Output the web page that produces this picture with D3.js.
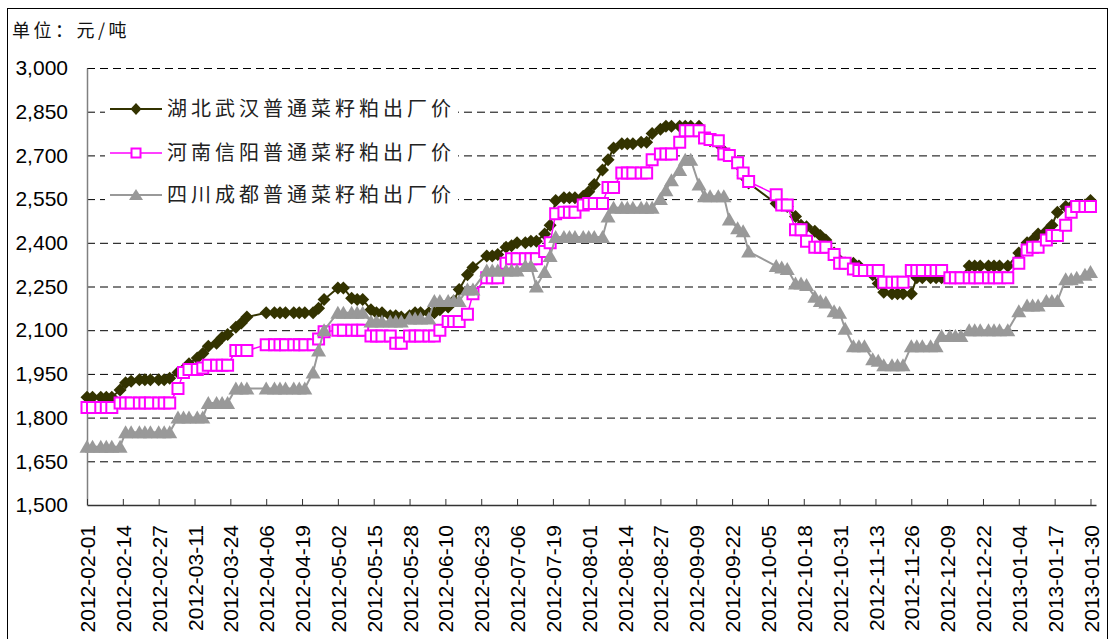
<!DOCTYPE html>
<html>
<head>
<meta charset="utf-8">
<script src="https://cdn.jsdelivr.net/npm/d3@7"></script>
<style>
  body { margin: 0; background: #fff; }
  svg { display: block; }
</style>
</head>
<body>
<svg id="chart" width="1110" height="639"></svg>
<script>
// Survey dates (Mon / Wed / Fri, public holidays excluded)
const sampleDates = [
  "2012-02-01","2012-02-03","2012-02-06","2012-02-08","2012-02-10","2012-02-13","2012-02-15","2012-02-17","2012-02-20","2012-02-22","2012-02-24","2012-02-27","2012-02-29",
  "2012-03-02","2012-03-05","2012-03-07","2012-03-09","2012-03-12","2012-03-14","2012-03-16","2012-03-19","2012-03-21","2012-03-23","2012-03-26","2012-03-28","2012-03-30",
  "2012-04-06","2012-04-09","2012-04-11","2012-04-13","2012-04-16","2012-04-18","2012-04-20","2012-04-23","2012-04-25","2012-04-27",
  "2012-05-02","2012-05-04","2012-05-07","2012-05-09","2012-05-11","2012-05-14","2012-05-16","2012-05-18","2012-05-21","2012-05-23","2012-05-25","2012-05-28","2012-05-30",
  "2012-06-01","2012-06-04","2012-06-06","2012-06-08","2012-06-11","2012-06-13","2012-06-15","2012-06-18","2012-06-20","2012-06-25","2012-06-27","2012-06-29",
  "2012-07-02","2012-07-04","2012-07-06","2012-07-09","2012-07-11","2012-07-13","2012-07-16","2012-07-18","2012-07-20","2012-07-23","2012-07-25","2012-07-27","2012-07-30",
  "2012-08-01","2012-08-03","2012-08-06","2012-08-08","2012-08-10","2012-08-13","2012-08-15","2012-08-17","2012-08-20","2012-08-22","2012-08-24","2012-08-27","2012-08-29","2012-08-31",
  "2012-09-03","2012-09-05","2012-09-07","2012-09-10","2012-09-12","2012-09-14","2012-09-17","2012-09-19","2012-09-21","2012-09-24","2012-09-26","2012-09-28",
  "2012-10-08","2012-10-10","2012-10-12","2012-10-15","2012-10-17","2012-10-19","2012-10-22","2012-10-24","2012-10-26","2012-10-29","2012-10-31",
  "2012-11-02","2012-11-05","2012-11-07","2012-11-09","2012-11-12","2012-11-14","2012-11-16","2012-11-19","2012-11-21","2012-11-23","2012-11-26","2012-11-28","2012-11-30",
  "2012-12-03","2012-12-05","2012-12-07","2012-12-10","2012-12-12","2012-12-14","2012-12-17","2012-12-19","2012-12-21","2012-12-24","2012-12-26","2012-12-28","2012-12-31",
  "2013-01-04","2013-01-07","2013-01-09","2013-01-11","2013-01-14","2013-01-16","2013-01-18","2013-01-21","2013-01-23","2013-01-25","2013-01-28","2013-01-30"
];

// 湖北武汉 (元/吨)
const wuhan = [
  1870,1870,1870,1870,1870,1895,1920,1925,1930,1930,1930,1930,1930,
  1935,1955,1965,1985,2005,2020,2045,2055,2075,2085,2110,2125,2145,
  2160,2160,2160,2160,2160,2160,2160,2160,2175,2205,
  2245,2245,2210,2205,2205,2170,2160,2160,2150,2150,2145,2150,2160,
  2160,2160,2160,2170,2180,2200,2240,2290,2315,2355,2355,2360,
  2385,2390,2400,2400,2405,2405,2430,2460,2545,2555,2555,2555,2560,
  2575,2600,2650,2685,2725,2740,2740,2740,2745,2745,2775,2790,2800,2800,
  2800,2800,2800,2800,2760,2750,2740,2715,2700,2670,2630,2605,
  2535,2530,2525,2490,2460,2455,2440,2425,2410,2365,2340,
  2330,2330,2320,2305,2290,2260,2230,2225,2225,2225,2225,2280,2280,
  2280,2280,2280,2280,2280,2280,2320,2320,2320,2320,2320,2320,2320,
  2365,2400,2410,2430,2440,2460,2505,2525,2525,2525,2530,2545
];

// 河南信阳 (元/吨)
const xinyang = [
  1835,1835,1835,1835,1835,1850,1850,1850,1850,1850,1850,1850,1850,
  1850,1900,1955,1965,1965,1970,1980,1980,1980,1980,2030,2030,2030,
  2050,2050,2050,2050,2050,2050,2050,2050,2070,2095,
  2100,2100,2100,2100,2100,2080,2080,2080,2080,2055,2055,2080,2080,
  2080,2080,2080,2100,2130,2130,2130,2155,2225,2280,2280,2280,
  2330,2345,2345,2345,2345,2345,2370,2400,2500,2505,2505,2505,2530,
  2535,2535,2535,2590,2590,2640,2640,2640,2640,2640,2685,2705,2705,2705,
  2745,2785,2785,2785,2760,2755,2750,2705,2700,2675,2640,2610,
  2565,2530,2530,2445,2445,2405,2385,2385,2385,2360,2330,
  2330,2310,2305,2305,2305,2305,2265,2265,2265,2265,2305,2305,2305,
  2305,2305,2305,2280,2280,2280,2280,2280,2280,2280,2280,2280,2280,
  2330,2375,2385,2385,2410,2425,2425,2460,2505,2525,2525,2525
];

// 四川成都 (元/吨)
const chengdu = [
  1700,1700,1700,1700,1700,1700,1750,1750,1750,1750,1750,1750,1750,
  1750,1800,1800,1800,1800,1800,1850,1850,1850,1850,1900,1900,1900,
  1900,1900,1900,1900,1900,1900,1900,1955,2030,2100,
  2160,2160,2160,2160,2160,2130,2130,2130,2130,2130,2130,2140,2140,
  2140,2140,2200,2200,2200,2200,2200,2240,2240,2305,2305,2305,
  2305,2305,2305,2320,2320,2250,2300,2355,2420,2420,2420,2420,2420,
  2420,2420,2420,2490,2520,2520,2520,2520,2520,2520,2520,2550,2580,2615,
  2650,2685,2685,2600,2560,2560,2560,2560,2480,2450,2440,2370,
  2320,2315,2310,2260,2260,2255,2215,2200,2195,2165,2160,
  2105,2045,2045,2045,2000,1995,1980,1980,1980,1980,2045,2045,2045,
  2045,2045,2080,2080,2080,2080,2100,2100,2100,2100,2100,2100,2100,
  2165,2185,2185,2185,2200,2200,2200,2275,2275,2280,2290,2300
];

const seriesNames = ["湖北武汉普通菜籽粕出厂价", "河南信阳普通菜籽粕出厂价", "四川成都普通菜籽粕出厂价"];
const yTicks = [1500, 1650, 1800, 1950, 2100, 2250, 2400, 2550, 2700, 2850, 3000];
const xTickLabels = [
  "2012-02-01","2012-02-14","2012-02-27","2012-03-11","2012-03-24","2012-04-06","2012-04-19",
  "2012-05-02","2012-05-15","2012-05-28","2012-06-10","2012-06-23","2012-07-06","2012-07-19",
  "2012-08-01","2012-08-14","2012-08-27","2012-09-09","2012-09-22","2012-10-05","2012-10-18",
  "2012-10-31","2012-11-13","2012-11-26","2012-12-09","2012-12-22","2013-01-04","2013-01-17","2013-01-30"
];
const unitLabel = "单位：元/吨";

const parse = d3.utcParse("%Y-%m-%d");
const fmt = d3.utcFormat("%Y-%m-%d");

const svg = d3.select("#chart");
const plot = { left: 87, right: 1096, top: 68, bottom: 505 };

const x = d3.scaleUtc()
  .domain([parse("2012-02-01"), parse("2013-02-01")])
  .range([plot.left, plot.right]);
const y = d3.scaleLinear()
  .domain([1500, 3000])
  .range([plot.bottom, plot.top]);

// outer frame
svg.append("rect")
  .attr("x", 7.5).attr("y", 8.5)
  .attr("width", 1100).attr("height", 640)
  .attr("fill", "#fff").attr("stroke", "#000").attr("stroke-width", 1);

// unit caption
svg.append("text")
  .attr("x", 12).attr("y", 37)
  .attr("font-family", "'Noto Sans CJK SC', sans-serif")
  .attr("font-size", 18)
  .attr("letter-spacing", 3.5)
  .attr("fill", "#111")
  .text(unitLabel);

// horizontal dashed grid
const grid = svg.append("g")
  .attr("transform", `translate(${plot.left},0)`)
  .call(d3.axisLeft(y).tickValues(yTicks.slice(1)).tickSize(-(plot.right - plot.left)).tickFormat(""));
grid.select(".domain").remove();
grid.selectAll("line")
  .attr("stroke", "#000")
  .attr("stroke-width", 1)
  .attr("stroke-dasharray", "8,5");

// y axis labels
const yAxis = svg.append("g")
  .attr("transform", `translate(${plot.left},0)`)
  .call(d3.axisLeft(y).tickValues(yTicks).tickSize(0).tickPadding(19).tickFormat(d3.format(",")));
yAxis.select(".domain")
  .attr("stroke", "#808080").attr("stroke-width", 1.5);
yAxis.selectAll("text")
  .attr("font-family", "'Liberation Sans', Arial, sans-serif")
  .attr("font-size", 21)
  .attr("fill", "#000");

// x axis
const xAxis = svg.append("g")
  .attr("transform", `translate(0,${plot.bottom})`)
  .call(d3.axisBottom(x).tickValues(xTickLabels.map(parse)).tickSize(-6).tickSizeOuter(0).tickFormat(fmt));
xAxis.select(".domain").attr("stroke", "#333").attr("stroke-width", 1.5);
xAxis.selectAll(".tick line").attr("stroke", "#333");
xAxis.selectAll("text")
  .attr("transform", "rotate(-90)")
  .attr("x", -20).attr("y", 0).attr("dy", "0.36em")
  .attr("text-anchor", "end")
  .attr("font-family", "'Liberation Sans', Arial, sans-serif")
  .attr("font-size", 21)
  .attr("fill", "#000");

// series
const dates = sampleDates.map(parse);
const series = [
  { name: seriesNames[0], values: wuhan,   color: "#333300", width: 2,   marker: "diamond" },
  { name: seriesNames[1], values: xinyang, color: "#FF00FF", width: 1.5, marker: "square" },
  { name: seriesNames[2], values: chengdu, color: "#999999", width: 2,   marker: "triangle" }
];

const markerPath = {
  diamond: "M0,-6.5L6.5,0L0,6.5L-6.5,0Z",
  square: "M-5.5,-5.5H5.5V5.5H-5.5Z",
  triangle: "M0,-7L7.5,6L-7.5,6Z"
};
const legendMarkerPath = {
  diamond: "M0,-6L5.5,0L0,6L-5.5,0Z",
  square: "M-4.5,-4.5H4.5V4.5H-4.5Z",
  triangle: "M0,-6L7,5L-7,5Z"
};

function styleMarker(sel, s) {
  if (s.marker === "square") {
    sel.attr("fill", "#fff").attr("stroke", s.color).attr("stroke-width", 2);
  } else {
    sel.attr("fill", s.color).attr("stroke", "none");
  }
}

const line = d3.line().x(d => x(d.date)).y(d => y(d.value));

series.forEach(s => {
  const pts = dates.map((d, i) => ({ date: d, value: s.values[i] }));
  const g = svg.append("g");
  g.append("path")
    .datum(pts)
    .attr("d", line)
    .attr("fill", "none")
    .attr("stroke", s.color)
    .attr("stroke-width", s.width);
  g.selectAll("path.mk")
    .data(pts)
    .join("path")
    .attr("class", "mk")
    .attr("d", markerPath[s.marker])
    .attr("transform", d => `translate(${x(d.date)},${y(d.value)})`)
    .call(styleMarker, s);
});

// legend
const legend = svg.append("g");
legend.append("rect")
  .attr("x", 105).attr("y", 94)
  .attr("width", 353).attr("height", 112)
  .attr("fill", "#fff");
const legendY = [109, 153, 195];
series.forEach((s, i) => {
  const row = legend.append("g").attr("transform", `translate(0,${legendY[i]})`);
  row.append("line")
    .attr("x1", 110).attr("x2", 162)
    .attr("stroke", s.color).attr("stroke-width", s.width);
  row.append("path")
    .attr("d", legendMarkerPath[s.marker])
    .attr("transform", "translate(136,0)")
    .call(styleMarker, s);
  row.append("text")
    .attr("x", 167).attr("y", 0).attr("dy", "0.36em")
    .attr("font-family", "'Noto Sans CJK SC', sans-serif")
    .attr("font-size", 20)
    .attr("letter-spacing", 4)
    .attr("fill", "#222")
    .text(s.name);
});
</script>
</body>
</html>
